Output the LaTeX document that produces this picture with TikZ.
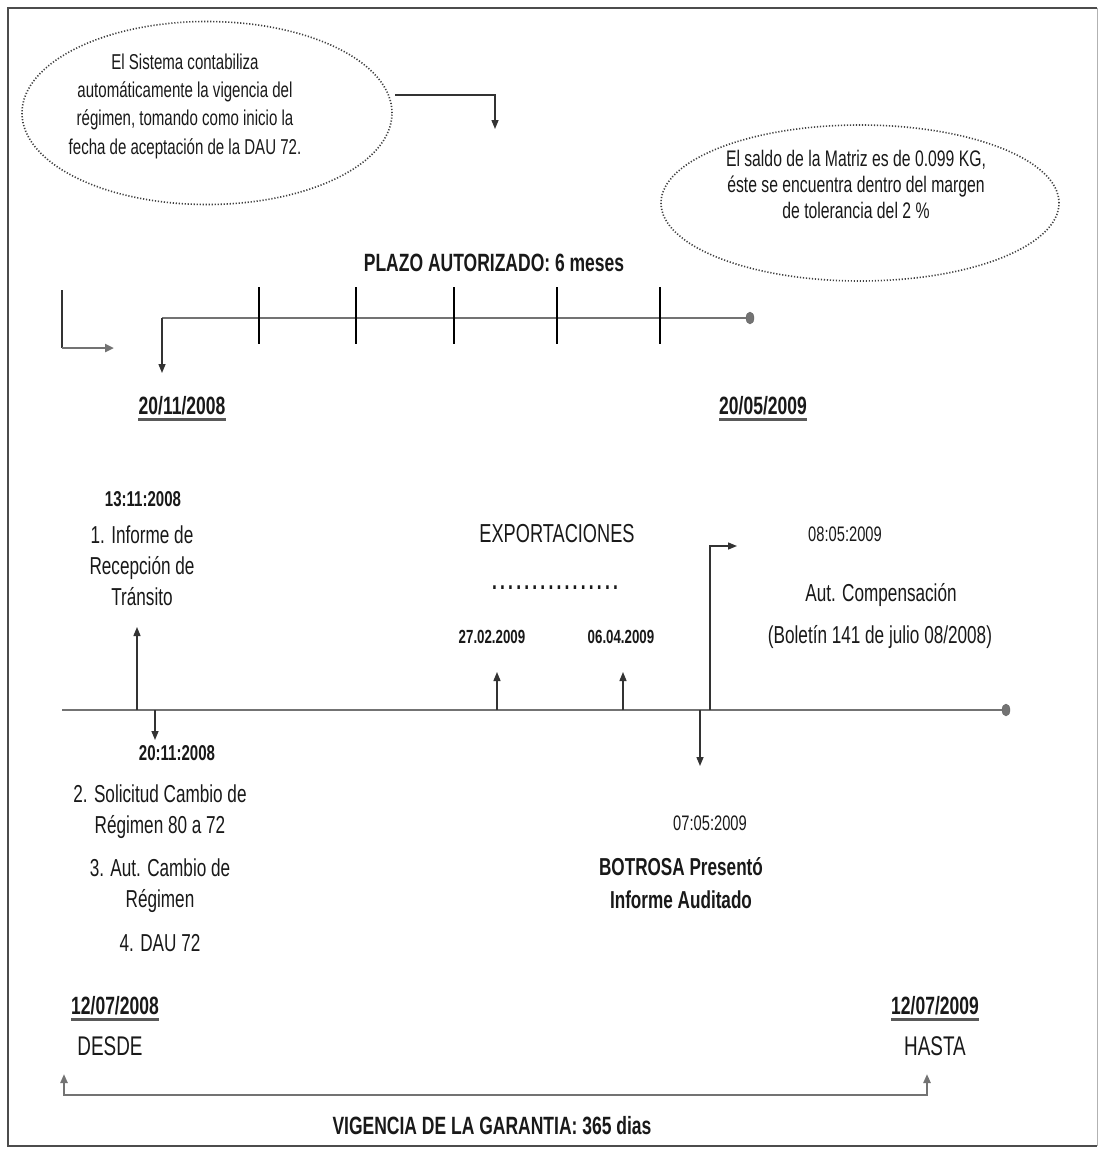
\documentclass[tikz,border=0pt]{standalone}
\usepackage{fontspec}
\setmainfont{Liberation Sans}[FakeStretch=0.7]
\usetikzlibrary{arrows.meta,shapes.geometric}
\newcommand\dotsp{.\hspace{3.2pt}}
\begin{document}
\begin{tikzpicture}[x=1pt,y=-1pt,
  lbl/.style={inner sep=0pt, align=center, text=black!90},
  fdate/.style={font=\fontsize{19}{22}\selectfont\bfseries},
  fsd/.style={font=\fontsize{21}{26}\selectfont},
  fsdb/.style={font=\fontsize{21.5}{26}\selectfont\bfseries},
  fcl1/.style={font=\fontsize{21.5}{28.3}\selectfont},
  fcl2/.style={font=\fontsize{22.5}{26}\selectfont},
  fmain/.style={font=\fontsize{24.5}{31}\selectfont},
  fbig/.style={font=\fontsize{27}{31}\selectfont},
  fhead/.style={font=\fontsize{25}{31}\selectfont\bfseries},
  fuld/.style={font=\fontsize{25}{30}\selectfont\bfseries},
  fexp/.style={font=\fontsize{26}{31}\selectfont},
  cloud/.style={draw=black!75, ellipse, line width=1.6pt, dash pattern=on 1.2pt off 1.8pt, inner sep=0pt},
  tline/.style={draw=black!55, line width=2pt},
  tick/.style={draw=black, line width=2pt},
  arr/.style={draw=black!80, line width=1.4pt, -{Triangle[length=9pt,width=7pt]}},
  garr/.style={draw=black!55, line width=2.4pt, -{Triangle[length=9pt,width=8pt]}},
  ul/.style={draw=black!65, line width=2.2pt},
  enddot/.style={fill=black!55, draw=black!60, ellipse, minimum width=8pt, minimum height=12pt, inner sep=0pt}
]
\useasboundingbox (0,0) rectangle (1099,1149);
\fill[white] (0,0) rectangle (1099,1149);
% frame
\coordinate (fr1) at (1097,8);
\coordinate (fr2) at (8,8);
\coordinate (fr3) at (8,1146);
\coordinate (fr4) at (1097,1146);
\draw[black!30, line width=1pt] (fr1) -- (fr4);
\draw[black!70, line width=2.5pt] (fr1) -- (fr2) -- (fr3) -- (fr4);

% ---- cloud 1
\node[cloud, minimum width=370pt, minimum height=183pt] (e1) at (207,113) {};
\node[lbl, fcl1] (e1t) at (185,106) {El Sistema contabiliza\\automáticamente la vigencia del\\régimen, tomando como inicio la\\fecha de aceptación de la DAU 72.};
\coordinate (c1s) at (395,95);
\coordinate (c1e) at (495,129);
\draw[arr] (c1s) -| (c1e);

% ---- cloud 2
\node[cloud, minimum width=398pt, minimum height=156pt] (e2) at (860,203) {};
\node[lbl, fcl2] (e2t) at (856,184) {El saldo de la Matriz es de 0.099 KG,\\éste se encuentra dentro del margen\\de tolerancia del 2 \%};

% ---- plazo
\node[lbl, fhead] (plazo) at (494,263) {PLAZO AUTORIZADO: 6 meses};
\coordinate (t0) at (162,318);
\node[enddot] (t1) at (750,318) {};
\draw[tline] (t0) -- (t1.west);
\foreach \x [count=\i] in {259,356,454,557,660}{
  \coordinate (tk\i a) at (\x,287);
  \coordinate (tk\i b) at (\x,344);
  \draw[tick] (tk\i a) -- (tk\i b);
}
\coordinate (t0d) at (162,373);
\draw[arr] (t0) -- (t0d);
\coordinate (la) at (62,290);
\coordinate (lc) at (62,348);
\coordinate (lb) at (114,348);
\draw[black!80, line width=1.6pt] (la) -- (lc);
\draw[garr] (lc) -- (lb);

\node[lbl, fuld] (d1) at (182,406) {20/11/2008};
\draw[ul] ([yshift=-4pt]d1.south west) -- ([yshift=-4pt]d1.south east);
\node[lbl, fuld] (d2) at (763,406) {20/05/2009};
\draw[ul] ([yshift=-4pt]d2.south west) -- ([yshift=-4pt]d2.south east);

% ---- main timeline
\coordinate (m0) at (62,710);
\node[enddot] (m1) at (1006,710) {};
\draw[tline] (m0) -- (m1.west);

% event 1 (up)
\coordinate (a1) at (137,710);
\coordinate (a1e) at (137,627);
\draw[arr] (a1) -- (a1e);
\node[lbl, fsdb] (ev1d) at (143,499) {13:11:2008};
\node[lbl, fmain] (ev1) at (142,566) {1. Informe de\\Recepción de\\Tránsito};

% event 2 (down)
\coordinate (a2) at (155,710);
\coordinate (a2e) at (155,740);
\draw[arr] (a2) -- (a2e);
\node[lbl, fsdb] (ev2d) at (177,753) {20:11:2008};
\node[lbl, fmain] (ev2a) at (160,812) {2. Solicitud Cambio de\\Régimen 80 a 72};
\node[lbl, fmain] (ev2b) at (160,886) {3. Aut. Cambio de\\Régimen};
\node[lbl, fmain] (ev2c) at (160,943) {4. DAU 72};

% exportaciones
\node[lbl, fexp] (exp) at (557,534) {EXPORTACIONES};
\node[lbl, fhead] (dots) at (555,588) {\dotsp\dotsp\dotsp\dotsp\dotsp\dotsp\dotsp\dotsp\dotsp\dotsp\dotsp\dotsp\dotsp\dotsp\dotsp.};
\node[lbl, fdate] (x1d) at (492,637) {27.02.2009};
\node[lbl, fdate] (x2d) at (621,637) {06.04.2009};
\coordinate (x1) at (497,710);
\coordinate (x1e) at (497,672);
\coordinate (x2) at (623,710);
\coordinate (x2e) at (623,672);
\draw[arr] (x1) -- (x1e);
\draw[arr] (x2) -- (x2e);

% event 07/05 (down)
\coordinate (a3) at (700,710);
\coordinate (a3e) at (700,766);
\draw[arr] (a3) -- (a3e);
\node[lbl, fsd] (ev3d) at (710,823) {07:05:2009};
\node[lbl, font=\fontsize{24.5}{33}\selectfont\bfseries] (ev3) at (681,883) {BOTROSA Presentó\\Informe Auditado};

% event 08/05 (up then right)
\coordinate (a4) at (710,710);
\coordinate (a4e) at (737,546);
\draw[arr] (a4) |- (a4e);
\node[lbl, fsd] (ev4d) at (845,534) {08:05:2009};
\node[lbl, fmain] (ev4) at (881,595) {Aut. Compensación};
\node[lbl, fmain] (ev4b) at (880,637) {(Boletín 141 de julio 08/2008)};

% ---- garantia
\node[lbl, fuld] (g1d) at (115,1006) {12/07/2008};
\draw[ul] ([yshift=-4pt]g1d.south west) -- ([yshift=-4pt]g1d.south east);
\node[lbl, fbig] (g1) at (110,1046) {DESDE};
\node[lbl, fuld] (g2d) at (935,1006) {12/07/2009};
\draw[ul] ([yshift=-4pt]g2d.south west) -- ([yshift=-4pt]g2d.south east);
\node[lbl, fbig] (g2) at (935,1046) {HASTA};
\coordinate (ga) at (64,1074);
\coordinate (gb) at (64,1095);
\coordinate (gc) at (927,1095);
\coordinate (gd) at (927,1074);
\draw[draw=black!55, line width=2.2pt, {Triangle[length=9pt,width=7pt]}-{Triangle[length=9pt,width=7pt]}] (ga) -- (gb) -- (gc) -- (gd);
\node[lbl, fhead] (vig) at (492,1126) {VIGENCIA DE LA GARANTIA: 365 dias};
\end{tikzpicture}
\end{document}
